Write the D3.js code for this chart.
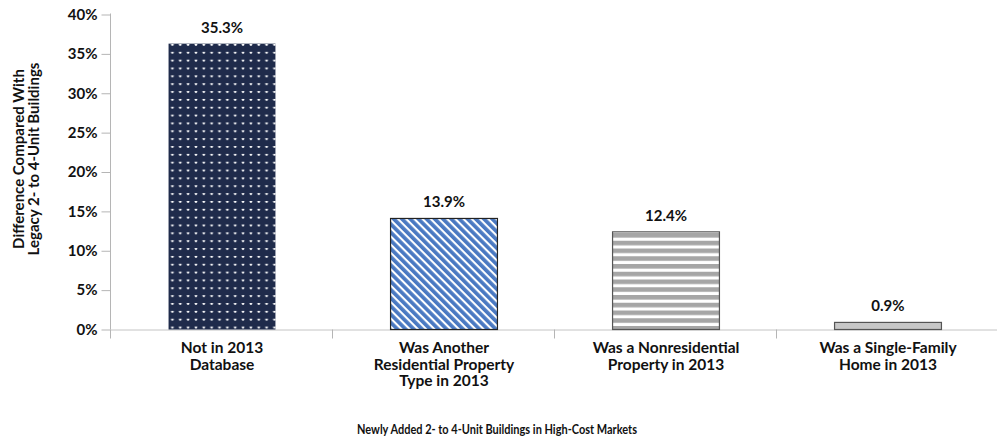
<!DOCTYPE html>
<html>
<head>
<meta charset="utf-8">
<script src="https://cdn.jsdelivr.net/npm/d3@7"></script>
<style>
  html, body { margin: 0; padding: 0; background: #fff; }
  svg { display: block; font-family: "Lato", "Open Sans", sans-serif; font-weight: 700; }
</style>
</head>
<body>
<svg id="chart" width="997" height="443"></svg>
<script>
// ---- data ----
const categories = [
  ["Not in 2013", "Database"],
  ["Was Another", "Residential Property", "Type in 2013"],
  ["Was a Nonresidential", "Property in 2013"],
  ["Was a Single-Family", "Home in 2013"]
];
const categoryKeys = ["Not in 2013 Database", "Was Another Residential Property Type in 2013", "Was a Nonresidential Property in 2013", "Was a Single-Family Home in 2013"];
const values = [36.3, 14.1, 12.4, 0.9];
const valueLabels = ["35.3%", "13.9%", "12.4%", "0.9%"];
const yTicks = [0, 5, 10, 15, 20, 25, 30, 35, 40];
const yTitle = ["Difference Compared With", "Legacy 2- to 4-Unit Buildings"];
const xTitle = "Newly Added 2- to 4-Unit Buildings in High-Cost Markets";

const svg = d3.select("#chart");
const W = 997, H = 443;
const x0 = 111, x1 = 999, yBase = 329.5, yTop = 14.5;

const x = d3.scaleBand().domain(categoryKeys).range([x0, x1]).paddingInner(0.514).paddingOuter(0.257);
const y = d3.scaleLinear().domain([0, 40]).range([yBase, yTop]);

// ---- patterns ----
const defs = svg.append("defs");
const dots = defs.append("pattern").attr("id", "dots").attr("patternUnits", "userSpaceOnUse")
  .attr("width", 7.85).attr("height", 7.85).attr("x", 168.5).attr("y", 44);
dots.append("rect").attr("width", 7.85).attr("height", 7.85).attr("fill", "#1f2b4b");
dots.append("circle").attr("cx", 3.9).attr("cy", 0.6).attr("r", 1.35).attr("fill", "#ffffff");

const diag = defs.append("pattern").attr("id", "diag").attr("patternUnits", "userSpaceOnUse")
  .attr("width", 5.8).attr("height", 10).attr("patternTransform", "rotate(-45)");
diag.append("rect").attr("width", 5.8).attr("height", 10).attr("fill", "#ffffff");
diag.append("rect").attr("width", 3.7).attr("height", 10).attr("fill", "#4a79c2");

const hstripe = defs.append("pattern").attr("id", "hstripe").attr("patternUnits", "userSpaceOnUse")
  .attr("width", 10).attr("height", 7.75).attr("y", 233);
hstripe.append("rect").attr("width", 10).attr("height", 7.75).attr("fill", "#ffffff");
hstripe.append("rect").attr("width", 10).attr("height", 4.6).attr("fill", "#a6a6a6");

const fills = ["url(#dots)", "url(#diag)", "url(#hstripe)", "#c8c8c8"];
const strokes = ["none", "#222222", "#555555", "#555555"];

// ---- axes ----
const yAxis = d3.axisLeft(y).tickValues(yTicks).tickFormat(d => d + "%").tickSize(9).tickPadding(4);
const gy = svg.append("g").attr("transform", `translate(${x0 - 0.5},0)`).call(yAxis);
gy.select(".domain").attr("stroke", "#b5b5b5").attr("d", `M0,${yTop - 1}V${yBase}`);
gy.selectAll(".tick line").attr("stroke", "#b5b5b5");
gy.selectAll(".tick text").attr("fill", "#111").attr("font-size", 15).attr("font-weight", 700)
  .attr("font-family", "Lato, sans-serif");

// x axis baseline
svg.append("line").attr("x1", x0 - 0.5).attr("x2", W).attr("y1", yBase + 0.5).attr("y2", yBase + 0.5)
  .attr("stroke", "#c4c4c4");
// category dividers
svg.selectAll(".div").data(categoryKeys).enter().append("line")
  .attr("x1", (d) => Math.round(x(d) + x.bandwidth() / 2 - x.step() / 2) - 0.5)
  .attr("x2", (d) => Math.round(x(d) + x.bandwidth() / 2 - x.step() / 2) - 0.5)
  .attr("y1", yBase).attr("y2", yBase + 9).attr("stroke", "#b5b5b5");

// ---- bars ----
svg.selectAll(".bar").data(values).enter().append("rect")
  .attr("x", (d, i) => x(categoryKeys[i]) + 0.5)
  .attr("width", x.bandwidth() - 1)
  .attr("y", d => y(d))
  .attr("height", d => y(0) - y(d))
  .attr("fill", (d, i) => fills[i])
  .attr("stroke", (d, i) => strokes[i])
  .attr("stroke-width", 1.2);

// value labels
svg.selectAll(".vl").data(values).enter().append("text")
  .attr("x", (d, i) => x(categoryKeys[i]) + x.bandwidth() / 2)
  .attr("y", d => y(d) - 11)
  .attr("text-anchor", "middle").attr("font-size", 15).attr("fill", "#111")
  .text((d, i) => valueLabels[i]);

// category labels
const cl = svg.selectAll(".cl").data(categories).enter().append("text")
  .attr("text-anchor", "middle").attr("font-size", 15.5).attr("fill", "#111")
  .attr("transform", (d, i) => `translate(${x(categoryKeys[i]) + x.bandwidth() / 2},353)`);
cl.selectAll("tspan").data(d => d).enter().append("tspan")
  .attr("x", 0).attr("y", (d, i) => i * 16.5).text(d => d);

// y title
const yt = svg.append("text").attr("text-anchor", "middle").attr("font-size", 15).attr("fill", "#111")
  .attr("transform", "translate(0,159) rotate(-90)");
yt.selectAll("tspan").data(yTitle).enter().append("tspan")
  .attr("x", 0).attr("y", (d, i) => 23.5 + i * 15.5).text(d => d);

// x title
svg.append("text").attr("x", 497).attr("y", 434).attr("text-anchor", "middle")
  .attr("font-size", 14).attr("textLength", 280).attr("lengthAdjust", "spacingAndGlyphs")
  .attr("fill", "#111").text(xTitle);
</script>
</body>
</html>
